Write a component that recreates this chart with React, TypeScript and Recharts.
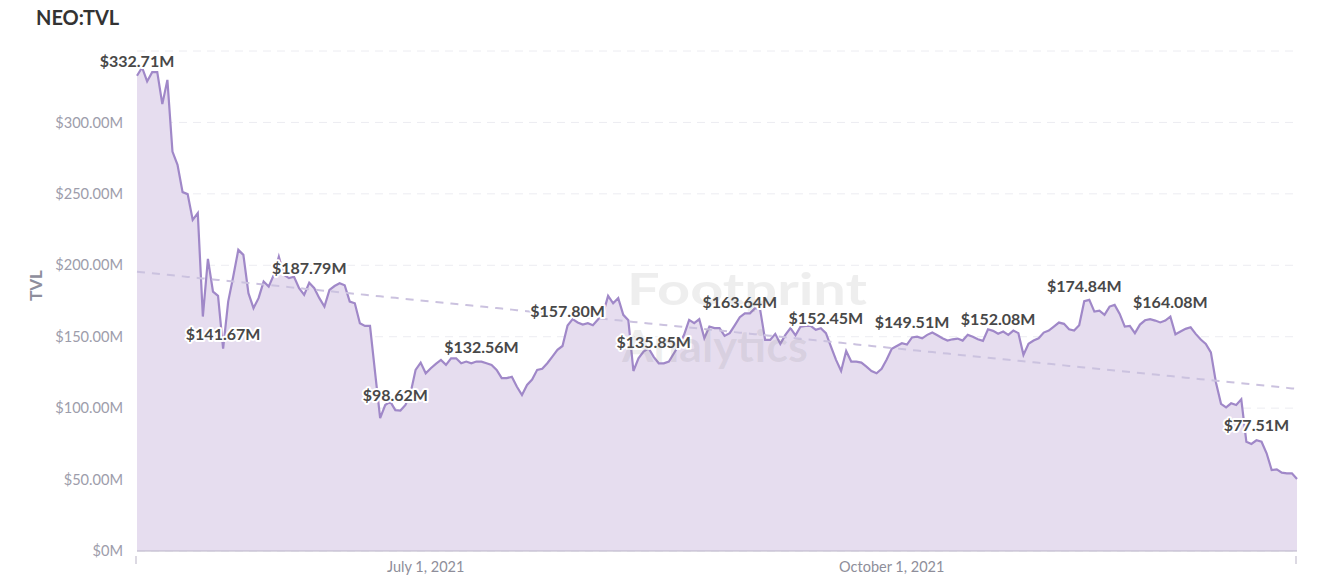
import { ComposedChart, Area, Line, XAxis, YAxis, CartesianGrid, LabelList } from 'recharts';

// NEO total value locked, daily, in $M (first point is May 5, 2021)
const START_DATE = '2021-05-05';
const TVL = [
  332.71, 338.5, 328.7, 335.2, 335.2, 312.8, 329.8, 279.6, 270.3, 251.2,
  249.8, 231.8, 236.5, 164.1, 204.5, 181.6, 178.6, 141.67, 174.6, 192.1,
  210.8, 207.3, 180.5, 170.0, 177.0, 188.6, 185.1, 193.3, 206.0, 193.3,
  191.0, 192.0, 184.0, 179.3, 187.79, 184.0, 177.0, 171.1, 182.8, 185.5,
  187.4, 186.0, 174.6, 173.4, 159.4, 157.6, 157.6, 125.0, 93.0, 102.2,
  104.6, 98.62, 98.3, 102.2, 110.4, 126.8, 131.9, 124.4, 127.9, 131.0,
  133.8, 130.3, 134.9, 134.9, 131.4, 132.6, 131.4, 132.6, 132.56, 131.4,
  130.3, 126.8, 121.0, 121.0, 122.0, 115.0, 109.2, 116.2, 120.0, 126.8,
  127.5, 131.4, 136.1, 140.8, 143.5, 157.8, 162.3, 160.0, 158.5, 159.5,
  158.0, 162.0, 166.0, 178.6, 173.4, 177.0, 165.3, 161.5, 126.0, 134.9,
  139.6, 141.9, 135.85, 131.4, 131.4, 132.6, 138.4, 144.3, 151.3, 161.8,
  159.5, 162.3, 149.0, 157.1, 156.0, 156.0, 150.6, 152.5, 158.0, 163.64,
  166.4, 166.4, 170.0, 169.3, 147.8, 147.8, 152.0, 145.0, 151.3, 156.0,
  151.0, 157.1, 157.6, 157.6, 154.8, 156.0, 152.45, 143.1, 133.8, 126.0,
  140.0, 132.6, 132.6, 131.9, 129.1, 126.0, 124.4, 127.5, 134.0, 141.5,
  143.5, 145.4, 144.5, 149.51, 150.0, 148.9, 151.3, 152.9, 151.0, 148.9,
  147.3, 148.2, 148.7, 147.3, 151.3, 150.0, 148.2, 147.1, 155.2, 154.1,
  152.08, 153.6, 151.3, 154.3, 152.5, 137.3, 145.0, 147.3, 148.9, 152.9,
  154.3, 157.1, 159.9, 159.0, 155.2, 154.3, 158.0, 174.84, 175.8, 167.6,
  168.3, 165.3, 171.1, 172.3, 166.0, 157.1, 157.6, 152.5, 158.5, 161.5,
  162.3, 161.3, 160.0, 161.3, 164.08, 151.7, 153.6, 155.5, 156.6, 152.0,
  148.0, 145.0, 139.0, 118.0, 103.0, 100.6, 103.4, 102.2, 106.2, 76.5,
  74.9, 77.51, 76.5, 68.4, 56.7, 57.2, 54.8, 54.4, 54.4, 50.4,
];
const X_TICK_DATES = ['2021-07-01', '2021-10-01'];
const X_TICK_LABELS = ['July 1, 2021', 'October 1, 2021'];
const Y_TICKS = [0, 50, 100, 150, 200, 250, 300];
const LABEL_EVERY = 17;

const DAY = 86400000;
const dayOf = (d: string) => Math.round((Date.parse(d) - Date.parse(START_DATE)) / DAY);
const LAST = TVL.length - 1;

// least-squares trend line over the series
const n = TVL.length;
const meanX = LAST / 2;
const meanY = TVL.reduce((s, v) => s + v, 0) / n;
let sxy = 0;
let sxx = 0;
TVL.forEach((v, i) => {
  sxy += (i - meanX) * (v - meanY);
  sxx += (i - meanX) * (i - meanX);
});
const slope = sxy / sxx;
const intercept = meanY - slope * meanX;

const data = TVL.map((v, i) => ({ day: i, tvl: v, trend: intercept + slope * i }));

const fmtM = (v: number) => (v === 0 ? '$0M' : `$${v.toFixed(2)}M`);

const dateTickDays = X_TICK_DATES.map(dayOf);
const tickDays = [0, ...dateTickDays, LAST];

const XTick = ({ x, y, payload }: any) => {
  const idx = dateTickDays.indexOf(payload.value);
  if (idx === -1) {
    return <line x1={x - 1} x2={x - 1} y1={y - 3} y2={y + 5} stroke="#b9b3c6" strokeWidth={1} />;
  }
  return (
    <text x={x} y={y + 13} textAnchor="middle" fill="#8e8e9a" fontSize={14.5}>
      {X_TICK_LABELS[idx]}
    </text>
  );
};

const PointLabel = ({ x, y, value, index }: any) => {
  if (index % LABEL_EVERY !== 0) return null;
  return (
    <text
      x={x}
      y={y - 9}
      textAnchor="middle"
      fontSize={16}
      fontWeight={700}
      fill="#484848"
      stroke="#ffffff"
      strokeWidth={4}
      strokeLinejoin="round"
      paintOrder="stroke"
    >
      {fmtM(value)}
    </text>
  );
};

export default function App() {
  return (
    <div
      style={{
        position: 'absolute',
        left: 0,
        top: 0,
        width: 1343,
        height: 584,
        background: '#ffffff',
        fontFamily: 'Lato, "Open Sans", sans-serif',
        overflow: 'hidden',
      }}
    >
      <div style={{ position: 'absolute', left: 36, top: 5, fontSize: 20, fontWeight: 700, color: '#333333' }}>
        NEO:TVL
      </div>
      <ComposedChart width={1343} height={584} data={data} margin={{ top: 51, right: 46, bottom: 3, left: 0 }}>
        <CartesianGrid vertical={false} stroke="#ececf1" strokeDasharray="8 6" />
        <XAxis
          dataKey="day"
          type="number"
          domain={[0, LAST]}
          ticks={tickDays}
          tick={<XTick />}
          tickLine={false}
          axisLine={{ stroke: '#b9b3c6' }}
          height={30}
          interval={0}
        />
        <YAxis
          type="number"
          domain={[0, 350]}
          ticks={Y_TICKS}
          tickFormatter={fmtM}
          tick={{ fill: '#9d9dab', fontSize: 14.6 }}
          tickLine={false}
          axisLine={false}
          width={137}
          tickMargin={8}
          interval={0}
          label={{
            value: 'TVL',
            angle: -90,
            position: 'insideLeft',
            offset: 36,
            fill: '#8e8e9c',
            fontSize: 17,
            fontWeight: 700,
          }}
        />
        <Area
          type="linear"
          dataKey="tvl"
          stroke="#a088c8"
          strokeWidth={2.2}
          fill="#e6ddef"
          fillOpacity={1}
          dot={false}
          activeDot={false}
          isAnimationActive={false}
        />
        <Line
          type="linear"
          dataKey="trend"
          stroke="#cbc2df"
          strokeWidth={2}
          strokeDasharray="8 7"
          dot={false}
          activeDot={false}
          isAnimationActive={false}
        />
        <Line
          type="linear"
          dataKey="tvl"
          stroke="none"
          dot={false}
          activeDot={false}
          isAnimationActive={false}
        >
          <LabelList dataKey="tvl" content={<PointLabel />} />
        </Line>
      </ComposedChart>
      {/* faint watermark laid over the plot */}
      <svg
        width={1343}
        height={584}
        style={{ position: 'absolute', left: 0, top: 0, pointerEvents: 'none' }}
      >
        <g fill="#7a7a7a" fillOpacity={0.13} fontWeight={700} fontSize={44} fontFamily="Lato, sans-serif">
          <text x={627} y={305} textLength={240} lengthAdjust="spacingAndGlyphs">
            Footprint
          </text>
          <text x={622} y={362} textLength={186} lengthAdjust="spacingAndGlyphs">
            Analytics
          </text>
        </g>
      </svg>
    </div>
  );
}
